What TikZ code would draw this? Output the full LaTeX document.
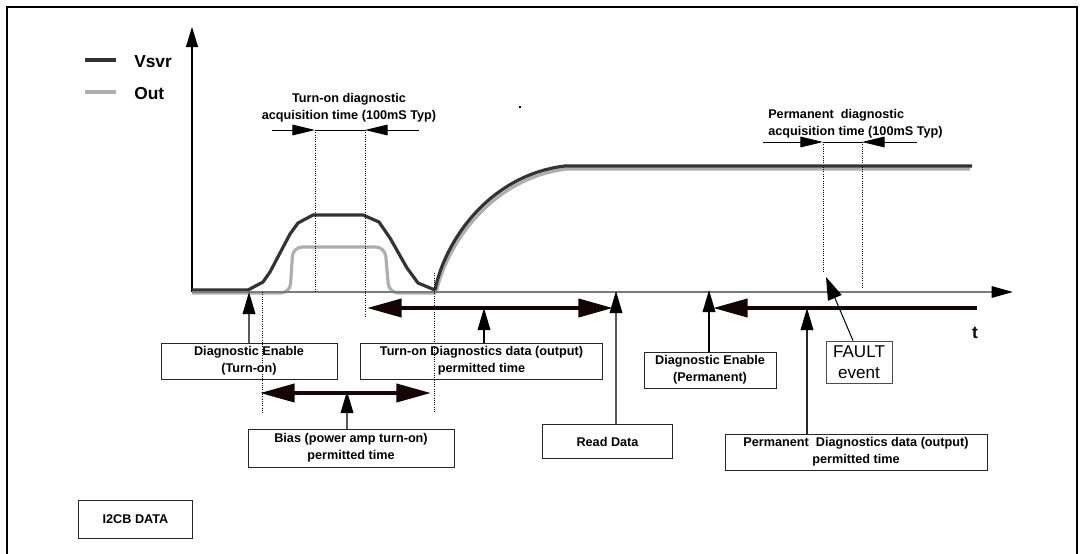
\documentclass[tikz,border=0pt]{standalone}
\usepackage{fontspec}
\setmainfont{Liberation Sans}
\usetikzlibrary{arrows.meta}
\definecolor{vs}{HTML}{333333}
\definecolor{og}{HTML}{AEAEAE}
\definecolor{ax}{HTML}{7A7A7A}
\definecolor{thk}{HTML}{150505}
\begin{document}
\begin{tikzpicture}[x=0.75pt,y=-0.75pt,
  lbl/.style={font=\bfseries\fontsize{9.5}{13}\selectfont, align=center, text=black, inner sep=0pt},
  boxn/.style={lbl, draw=black!85, line width=0.75pt},
  upar/.style={draw=black!65, line width=1pt, -{Triangle[length=16.5pt,width=9.5pt,color=black]}},
  thickar/.style={draw=thk, line width=3pt},
  acq/.style={line width=0.75pt},
  dots/.style={densely dotted, line width=0.7pt},
  vsv/.style={draw=vs, line width=2.4pt, line join=round},
  outl/.style={draw=og, line width=2.4pt, line join=round}]
\useasboundingbox (0,0) rectangle (1084,553);
% frame
\draw[line width=1.6pt] (7,560) -- (7,7) -- (1077,7) -- (1077,560);
% legend
\draw[vsv] (85,60) -- (116,60);
\draw[outl] (85,92) -- (116,92);
\node[lbl, font=\bfseries\fontsize{13}{15}\selectfont, anchor=west] (lv) at (134,62) {Vsvr};
\node[lbl, font=\bfseries\fontsize{13}{15}\selectfont, anchor=west] (lo) at (134,94) {Out};
% axes
\coordinate (org) at (192,292);
\coordinate (ytop) at (192,27);
\coordinate (xend) at (1013,292);
\draw[line width=1pt, -{Triangle[length=15pt,width=9pt]}] (org) -- (ytop);
% curves: Out (gray) first
\draw[outl, rounded corners=7pt] (192,293) -- (290,293) -- (293,247) -- (385,247) -- (389,293) -- (436,293);
\draw[outl] (436,293) .. controls (447,243) and (492,178) .. (567,169) -- (970,169);
% Vsvr
\draw[vsv] (192,290) -- (248,290) -- (263,282) -- (270,272) -- (290,234) -- (298,223) -- (313,215) -- (363,215) -- (379,222) -- (390,238) -- (407,268) -- (418,283) -- (435,290);
\draw[vsv] (435,290) .. controls (445,240) and (490,175) .. (565,166) -- (972,166);
\draw[ax, line width=1.5pt, -{Triangle[length=16pt,width=8.5pt,color=black]}] (org) -- (xend);
% stray mark
\fill (519,106) rectangle (521,108);
% turn-on acquisition
\node[lbl] (tacq) at (349,108) {Turn-on diagnostic\\acquisition time (100mS Typ)};
\coordinate (ta1) at (315,130);
\coordinate (ta2) at (365,130);
\draw[acq, -{Triangle[length=17pt,width=8pt]}] (272,130) -- (ta1);
\draw[acq] (ta1) -- (ta2);
\draw[acq, -{Triangle[length=17pt,width=8pt]}] (419,130) -- (ta2);
\draw[dots] (ta1) -- (315,292);
\draw[dots] (ta2) -- (365,317);
% permanent acquisition
\node[lbl, align=left, anchor=west] (pacq) at (768,124) {Permanent\ \ diagnostic\\acquisition time (100mS Typ)};
\coordinate (pa1) at (823,142);
\coordinate (pa2) at (862,142);
\draw[acq, -{Triangle[length=17pt,width=8pt]}] (763,142) -- (pa1);
\draw[acq] (pa1) -- (pa2);
\draw[acq, -{Triangle[length=17pt,width=8pt]}] (917,142) -- (pa2);
\draw[dots] (pa1) -- (823,272);
\draw[dots] (pa2) -- (862,288);
% other dotted verticals
\draw[dots] (262,292) -- (262,413);
\draw[dots] (434,273) -- (434,412);
% boxes
\node[boxn, minimum width=132pt, minimum height=27pt] (de1) at (249,361) {Diagnostic Enable\\(Turn-on)};
\node[boxn, minimum width=182pt, minimum height=27pt] (td) at (481.5,361) {Turn-on Diagnostics data (output)\\permitted time};
\node[boxn, minimum width=154.5pt, minimum height=28.5pt] (bias) at (351,448) {Bias (power amp turn-on)\\permitted time};
\node[boxn, minimum width=98pt, minimum height=26pt] (rd) at (607.5,441.5) {Read Data};
\node[boxn, minimum width=99pt, minimum height=27pt] (de2) at (710,370) {Diagnostic Enable\\(Permanent)};
\node[boxn, minimum width=196.5pt, minimum height=27pt] (pd) at (856,452) {Permanent\ \ Diagnostics data (output)\\permitted time};
\node[boxn, font=\fontsize{12.8}{16}\selectfont, draw=black!70, minimum width=49.5pt, minimum height=32pt] (fault) at (859,362.5) {FAULT\\event};
\node[boxn, minimum width=85pt, minimum height=28pt] (i2cb) at (135.5,519.5) {I2CB DATA};
\node[lbl, font=\bfseries\fontsize{13}{15}\selectfont] (tl) at (975,333) {t};
% thick arrows
\coordinate (tdL) at (367,308);
\coordinate (tdR) at (613,308);
\draw[thickar, {Triangle[length=26pt,width=13.5pt]}-{Triangle[length=26pt,width=13.5pt]}] (tdL) -- (tdR);
\coordinate (pdL) at (713,308);
\coordinate (pdR) at (977,308);
\draw[thickar, {Triangle[length=26pt,width=13.5pt]}-] (pdL) -- (pdR);
\coordinate (bL) at (260,393);
\coordinate (bR) at (431,393);
\draw[thickar, {Triangle[length=26pt,width=13.5pt]}-{Triangle[length=26pt,width=13.5pt]}] (bL) -- (bR);
% up arrows
\coordinate (de1t) at (249,292);
\coordinate (tdt) at (484,308);
\coordinate (rdt) at (616,291);
\coordinate (de2t) at (709,290);
\coordinate (pdt) at (807,308);
\coordinate (biast) at (347,391);
\draw[upar] (de1.north -| de1t) -- (de1t);
\draw[upar, draw=black] (td.north -| tdt) -- (tdt);
\draw[upar] (rd.north -| rdt) -- (rdt);
\draw[upar, draw=black] (de2.north -| de2t) -- (de2t);
\draw[upar, draw=black!85] (pd.north -| pdt) -- (pdt);
\draw[upar] (bias.north -| biast) -- (biast);
% fault arrow
\coordinate (fs) at (853,341);
\coordinate (ft) at (826,277);
\draw[line width=0.75pt, -{Triangle[length=17pt,width=11pt]}] (fault.north -| fs) -- (ft);
\end{tikzpicture}
\end{document}
